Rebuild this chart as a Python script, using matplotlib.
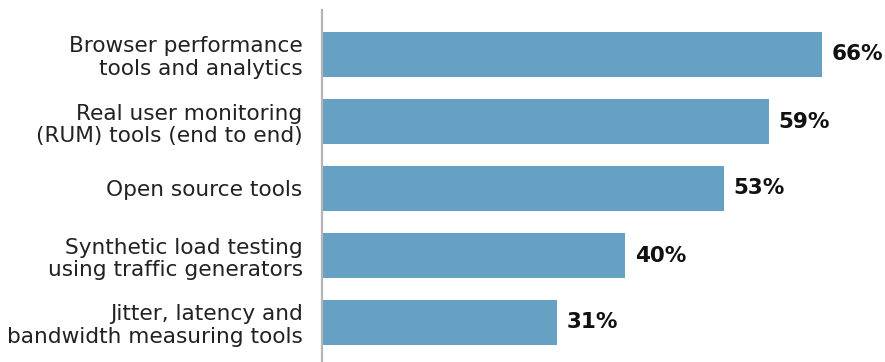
import matplotlib
matplotlib.use("Agg")
import matplotlib.pyplot as plt

categories = [
    "Browser performance\ntools and analytics",
    "Real user monitoring\n(RUM) tools (end to end)",
    "Open source tools",
    "Synthetic load testing\nusing traffic generators",
    "Jitter, latency and\nbandwidth measuring tools",
]
values = [66, 59, 53, 40, 31]

W, H, DPI = 885, 362, 100
fig = plt.figure(figsize=(W / DPI, H / DPI), dpi=DPI)
plt.rcParams["font.family"] = ["DejaVu Sans"]

left_px, top_px = 322, 10
ax = fig.add_axes([left_px / W, 0, 1 - left_px / W, (H - top_px) / H])

pitch = 67.0
ax.barh(range(len(values)), values, height=45 / pitch, color="#66a0c3", align="center")

ax.set_xlim(0, (W - left_px) / (500 / 66))
ax.set_ylim(4 + (H - 322.5) / pitch, -(54.5 - top_px) / pitch)

for s in ["top", "right", "bottom"]:
    ax.spines[s].set_visible(False)
ax.spines["left"].set_color("#b5b5b5")
ax.spines["left"].set_linewidth(1.6)

ax.set_xticks([])
ax.set_yticks(range(len(categories)))
ax.set_yticklabels(categories, fontsize=15.6, color="#222222", linespacing=1.18)
ax.tick_params(axis="y", length=0, pad=14)
for lbl in ax.get_yticklabels():
    lbl.set_horizontalalignment("right")

for i, v in enumerate(values):
    ax.annotate(f"{v}%", xy=(v, i), xytext=(7, 0), textcoords="offset points",
                ha="left", va="center", fontsize=15.5, fontweight="bold", color="#111111")

fig.savefig("out.png", dpi=DPI)
